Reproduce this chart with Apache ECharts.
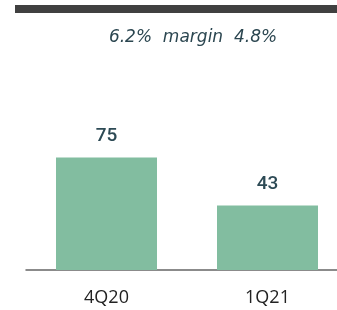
<!DOCTYPE html>
<html>
<head>
<meta charset="utf-8">
<script src="https://cdn.jsdelivr.net/npm/echarts@6/dist/echarts.min.js"></script>
<style>
  html, body { margin: 0; padding: 0; background: #fff; }
  #chart { width: 337px; height: 310px; }
</style>
</head>
<body>
<div id="chart"></div>
<script>
const categories = ["4Q20", "1Q21"];
const values = [75, 43];
const marginText = "6.2%  margin  4.8%";

const chart = echarts.init(document.getElementById("chart"));

chart.setOption({
    animation: false,
    title: {
        text: marginText,
        left: 188,
        top: 24,
        textAlign: "center",
        textStyle: {
            fontFamily: "DejaVu Sans",
            fontStyle: "italic",
            fontWeight: "normal",
            fontSize: 17,
            color: "#2b4650",
        },
    },
    graphic: [
        {
            type: "rect",
            shape: { x: 15, y: 5, width: 322, height: 8 },
            style: { fill: "#404040" },
        },
    ],
    grid: {
        left: 26,
        top: 120,
        width: 322,
        height: 150,
        outerBoundsMode: "none",
        containLabel: false,
    },
    xAxis: {
        type: "category",
        data: categories,
        axisLine: { lineStyle: { color: "#666", width: 1.5 } },
        axisTick: { show: false },
        axisLabel: {
            margin: 19,
            fontFamily: "Open Sans",
            fontSize: 18,
            color: "#222",
        },
    },
    yAxis: {
        type: "value",
        min: 0,
        max: 100,
        show: false,
    },
    series: [
        {
            type: "bar",
            data: values,
            barWidth: 101,
            itemStyle: { color: "#82bda0" },
            label: {
                show: true,
                position: "top",
                distance: 12,
                fontFamily: "Roboto",
                fontWeight: 500,
                fontSize: 19,
                color: "#2d4a55",
            },
        },
    ],
});
</script>
</body>
</html>
